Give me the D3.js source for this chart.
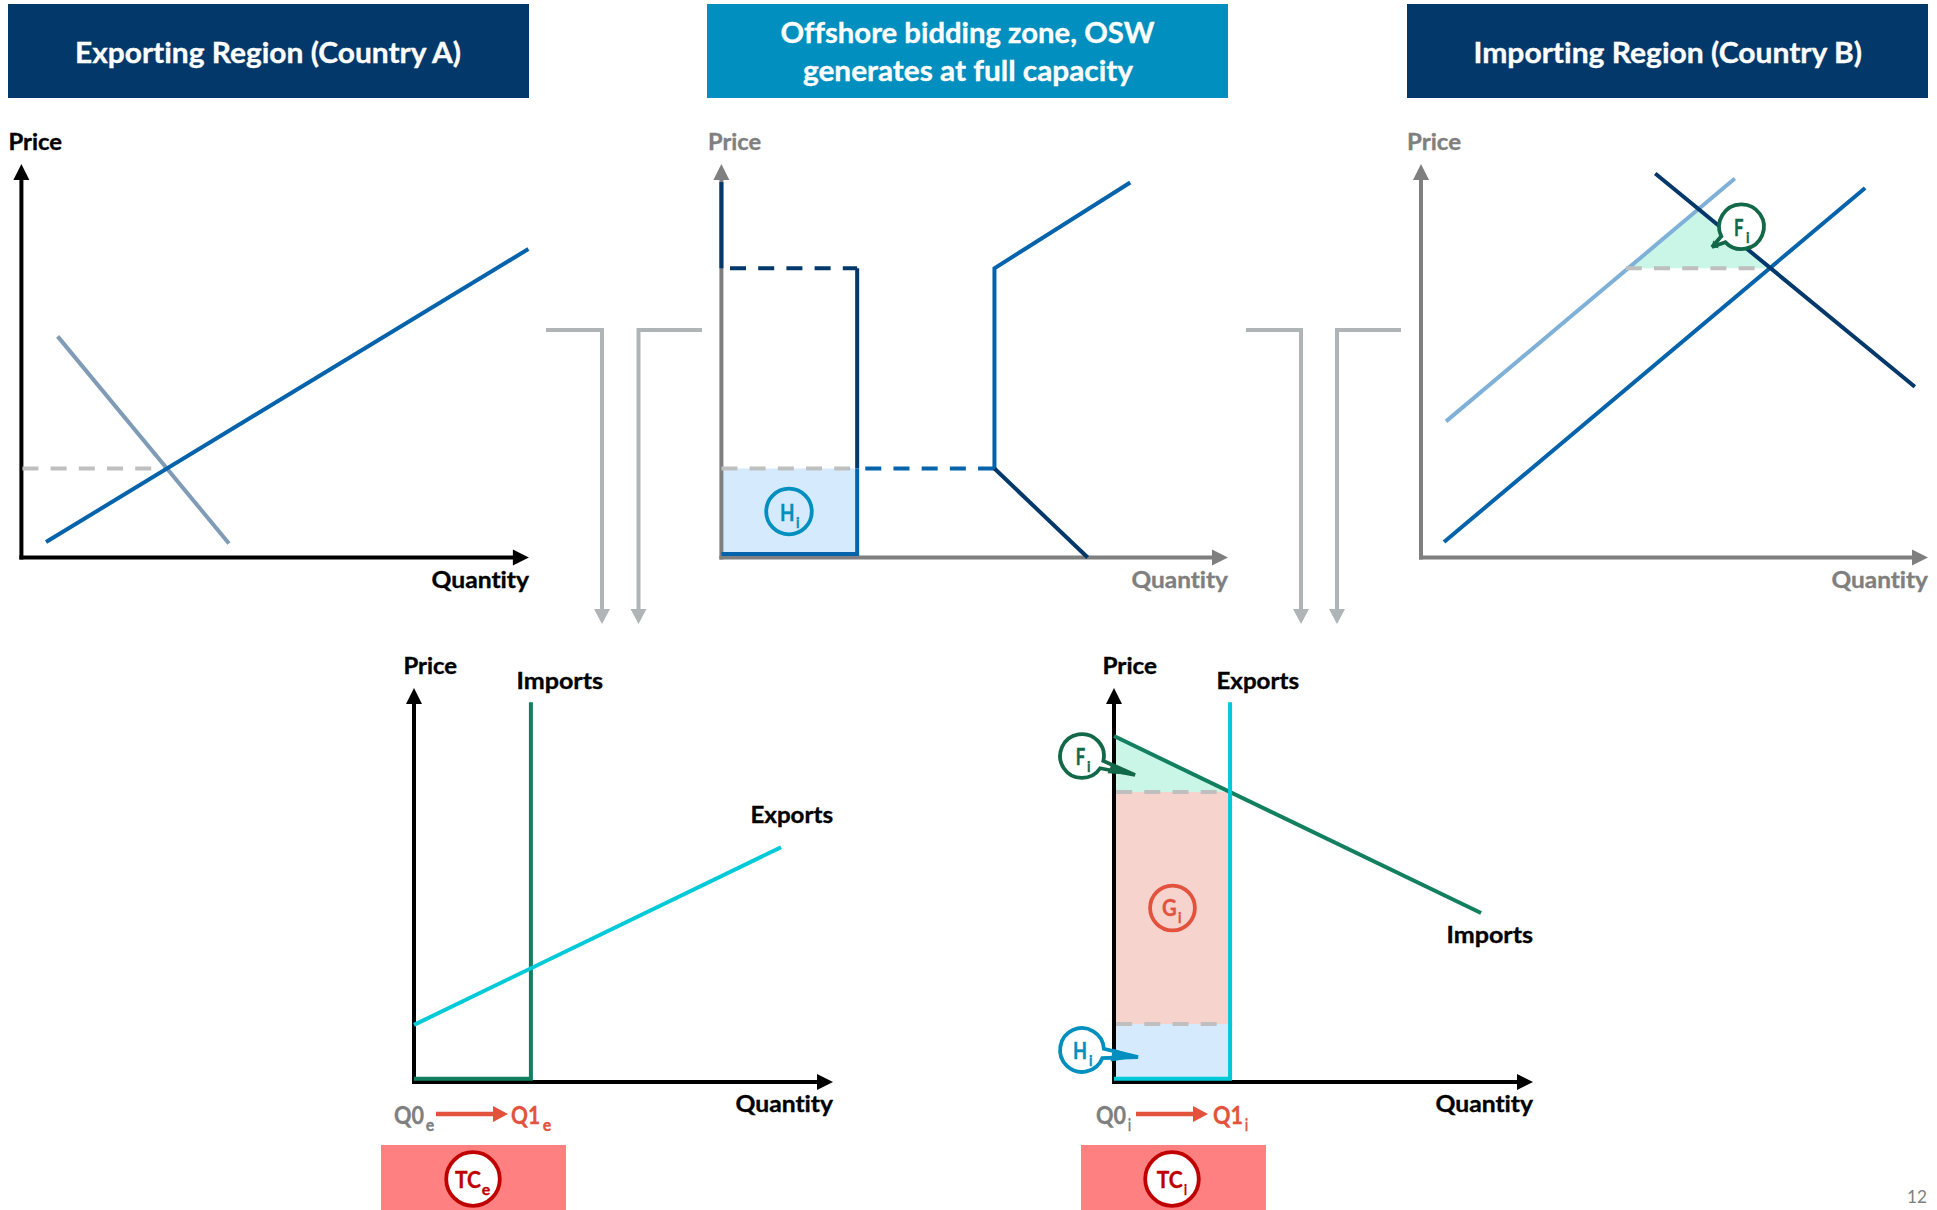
<!DOCTYPE html>
<html>
<head>
<meta charset="utf-8">
<title>Offshore bidding zone welfare effects</title>
<script src="https://cdn.jsdelivr.net/npm/d3@7"></script>
<style>
  html, body { margin: 0; padding: 0; background: #fff; }
  svg { display: block; }
  text { font-family: Lato, "Open Sans", sans-serif; font-weight: 700; font-variant-ligatures: none; stroke-width: 0.35px; }
</style>
</head>
<body>
<div id="chart"></div>
<script>
// Curve values, as [quantity %, price %] of each panel's axis length.
const exportSupply   = [[4.85, 3.94], [99.9, 78.4]];
const exportDemand   = [[7.14, 56.2], [40.9, 3.56]];
const exportPrice    = [[0.2, 22.6], [28.3, 22.6]];

const offshoreCap    = 26.8;
const offshoreBottom = 0.9;
const offshoreHigh   = 73.5;
const offshoreLow    = 22.6;
const offshoreCapAxis   = [[0, 73.5], [0, 95.4]];
const offshoreHighDash  = [[1.7, 73.5], [26.8, 73.5]];
const offshoreLowDash   = [[0, 22.6], [26.8, 22.6]];
const offshoreBlueDash  = [[28.4, 22.6], [53.9, 22.6]];
const offshoreSupply    = [[53.9, 22.6], [53.9, 73.5], [80.7, 95.3]];
const offshoreDemand    = [[53.9, 22.6], [72.3, 0]];

const importShifted  = [[4.93, 34.6], [61.9, 96.3]];
const importSupply   = [[4.54, 3.94], [87.6, 93.9]];
const importDemand   = [[46.2, 97.6], [97.4, 43.4]];
const importRent     = [[40.8, 73.5], [54.6, 88.5], [68.7, 73.5]];
const importPrice    = [[40.4, 73.5], [68.7, 73.5]];

const tradeECap      = 27.9;
const tradeETop      = 96.4;
const tradeEBottom   = 0.8;
const tradeEExports  = [[0, 14.5], [87.6, 59.6]];

const tradeICap      = 27.7;
const tradeITop      = 96.4;
const tradeIBottom   = 0.8;
const tradeILevelHi  = 73.6;
const tradeILevelLo  = 14.7;
const tradeIImports  = [[0, 87.8], [87.6, 42.9]];

const headerTitles = ["Exporting Region (Country A)", "Offshore bidding zone, OSW", "generates at full capacity", "Importing Region (Country B)"];
const axisTitles   = ["Price", "Quantity"];

// Palette
const navy = "#02386A", teal = "#008FBE", blue = "#0563AB", lightBlue = "#7FB1D8", steel = "#7F9BB5";
const grey = "#7F7F7F", dashGrey = "#BFBFBF", connector = "#AFB4B6", cyan = "#00CAD8", green = "#128060";
const darkGreen = "#12694A", red = "#E2523C", darkRed = "#C00000", salmon = "#FF8080";
const fillBlue = "#D5EAFC", fillGreen = "#C9F6E6", fillPink = "#F7D3CE";

const svg = d3.select("#chart").append("svg").attr("width", 1937).attr("height", 1210);

const LINE = 4;
const RING = 3.8;
const linePath = (x, y) => d3.line().x(d => x(d[0])).y(d => y(d[1]));

function label(text, x, baseline, width, size, color, g = svg) {
  return g.append("text").attr("x", x).attr("y", baseline)
    .attr("font-size", size).attr("fill", color).attr("stroke", color)
    .attr("textLength", width).attr("lengthAdjust", "spacingAndGlyphs")
    .text(text);
}

// Letters with a subscript, e.g. Q0 + e
function subscripted(main, sub, m, s, color, g = svg) {
  const t = g.append("text").attr("fill", color).attr("stroke", color);
  t.append("tspan").attr("x", m.x).attr("y", m.y).attr("font-size", m.size)
    .attr("textLength", m.w).attr("lengthAdjust", "spacingAndGlyphs").text(main);
  t.append("tspan").attr("x", s.x).attr("y", s.y).attr("font-size", s.size)
    .attr("textLength", s.w).attr("lengthAdjust", "spacingAndGlyphs").text(sub);
}

// One chart panel: scales, hidden-tick axes and arrow heads
function panel(x0, y0, w, h, axisColor) {
  const x = d3.scaleLinear().domain([0, 100]).range([x0, x0 + w]);
  const y = d3.scaleLinear().domain([0, 100]).range([y0, y0 - h]);
  const g = svg.append("g");
  const drawAxes = () => {
    const ax = d3.scaleLinear().domain([0, 100]).range([x0, x0 + w - 14]);
    const ay = d3.scaleLinear().domain([0, 100]).range([y0, y0 - h + 14]);
    const bottom = g.append("g").attr("transform", `translate(0,${y0})`)
      .call(d3.axisBottom(ax).tickValues([]).tickSizeOuter(0).offset(0));
    const left = g.append("g").attr("transform", `translate(${x0},0)`)
      .call(d3.axisLeft(ay).tickValues([]).tickSizeOuter(0).offset(0));
    for (const a of [bottom, left]) {
      a.select(".domain").attr("stroke", axisColor).attr("stroke-width", LINE).attr("stroke-linecap", "square");
    }
    g.append("path").attr("fill", axisColor)
      .attr("d", `M${x(100)},${y0} L${x(100) - 16},${y0 - 8} L${x(100) - 16},${y0 + 8} Z`);
    g.append("path").attr("fill", axisColor)
      .attr("d", `M${x0},${y(100)} L${x0 - 8},${y(100) + 16} L${x0 + 8},${y(100) + 16} Z`);
  };
  return { x, y, g, drawAxes };
}

function curve(p, data, color, opts = {}) {
  return p.g.append("path").datum(data)
    .attr("d", linePath(p.x, p.y))
    .attr("fill", "none").attr("stroke", color)
    .attr("stroke-width", opts.width || LINE)
    .attr("stroke-dasharray", opts.dash ? "16 12.2" : null)
    .attr("stroke-linejoin", "miter");
}

function area(p, data, color) {
  p.g.append("path").datum(data)
    .attr("d", linePath(p.x, p.y).curve(d3.curveLinearClosed))
    .attr("fill", color);
}

function box(p, q0, q1, p0, p1, color) {
  area(p, [[q0, p0], [q1, p0], [q1, p1], [q0, p1]], color);
}

function badge(cx, cy, r, color, fill = "#fff") {
  svg.append("circle").attr("cx", cx).attr("cy", cy).attr("r", r)
    .attr("fill", fill).attr("stroke", color).attr("stroke-width", RING);
}

// Speech-bubble marker: circle with a wedge between two angles, pointing at a tip
function bubble(cx, cy, r, tip, a1, a2, color) {
  const pt = (a, rad = r) => [cx + rad * Math.cos(a * Math.PI / 180), cy + rad * Math.sin(a * Math.PI / 180)];
  const [sx, sy] = pt(a2), [ex, ey] = pt(a1);
  svg.append("path")
    .attr("d", `M${sx},${sy} A${r},${r} 0 1 1 ${ex},${ey} L${tip[0]},${tip[1]} Z`)
    .attr("fill", "#fff").attr("stroke", color).attr("stroke-width", RING).attr("stroke-linejoin", "miter");
  // the narrow end of the wedge reads as solid colour
  const [ax, ay] = pt(a1, r + 9), [bx, by] = pt(a2, r + 9);
  svg.append("path").attr("d", `M${ax},${ay} L${tip[0]},${tip[1]} L${bx},${by} Z`).attr("fill", color);
}

// Elbow arrow running from a panel's side down towards the trade panels
function elbow(xStart, xTurn) {
  const yTop = 330, yTip = 624;
  svg.append("path").attr("fill", "none").attr("stroke", connector).attr("stroke-width", LINE)
    .attr("d", d3.line()([[xStart, yTop], [xTurn, yTop], [xTurn, yTip - 12]]));
  svg.append("path").attr("fill", connector)
    .attr("d", `M${xTurn},${yTip} L${xTurn - 8},${yTip - 15} L${xTurn + 8},${yTip - 15} Z`);
}

// Header bands
const headers = [
  { x: 8, w: 521, color: navy }, { x: 707, w: 521, color: teal }, { x: 1407, w: 521, color: navy }
];
svg.selectAll("rect.header").data(headers).join("rect").attr("class", "header")
  .attr("x", d => d.x).attr("y", 4).attr("width", d => d.w).attr("height", 94).attr("fill", d => d.color);
label(headerTitles[0], 75, 62.5, 386, 29, "#fff");
label(headerTitles[1], 780.5, 42.5, 374, 29, "#fff");
label(headerTitles[2], 803, 81, 330, 29, "#fff");
label(headerTitles[3], 1473.5, 62.5, 388.5, 29, "#fff");

// Connectors between the regional and trade panels
elbow(546, 602);
elbow(702, 638.5);
elbow(1246, 1301);
elbow(1401, 1337);

// Exporting region
const pA = panel(21.4, 557.5, 507.5, 393.5, "#000");
pA.drawAxes();
curve(pA, exportPrice, dashGrey, { dash: true });
curve(pA, exportDemand, steel);
curve(pA, exportSupply, blue);
label(axisTitles[0], 8.5, 149.5, 53.5, 22, "#000");
label(axisTitles[1], 431.5, 588, 97.5, 22, "#000");

// Offshore bidding zone
const pO = panel(721.4, 557.5, 506.6, 393.5, grey);
box(pO, 0, offshoreCap, offshoreBottom, offshoreLow, fillBlue);
pO.drawAxes();
curve(pO, offshoreCapAxis, navy);
curve(pO, offshoreHighDash, navy, { dash: true });
curve(pO, [[offshoreCap, offshoreHigh], [offshoreCap, offshoreLow]], navy);
curve(pO, [[0, offshoreBottom], [offshoreCap, offshoreBottom], [offshoreCap, offshoreLow]], blue);
curve(pO, offshoreLowDash, dashGrey, { dash: true });
curve(pO, offshoreBlueDash, blue, { dash: true });
curve(pO, offshoreSupply, blue);
curve(pO, offshoreDemand, navy);
label(axisTitles[0], 708, 149.5, 53, 22, grey);
label(axisTitles[1], 1131.5, 588, 96.5, 22, grey);
badge(789, 511.5, 22.8, teal, fillBlue);
subscripted("H", "i", { x: 780, y: 521, size: 22, w: 14.5 }, { x: 796, y: 527.5, size: 15, w: 3.5 }, teal);

// Importing region
const pI = panel(1421, 557.5, 507, 393.5, grey);
area(pI, importRent, fillGreen);
pI.drawAxes();
curve(pI, importShifted, lightBlue);
curve(pI, importPrice, dashGrey, { dash: true });
curve(pI, importSupply, blue);
curve(pI, importDemand, navy);
label(axisTitles[0], 1407, 149.5, 54, 22, grey);
label(axisTitles[1], 1831.5, 588, 96.5, 22, grey);
bubble(1741.5, 226.7, 22.4, [1712, 247], 136.5, 154.5, darkGreen);
subscripted("F", "i", { x: 1734, y: 236, size: 22, w: 9.5 }, { x: 1746, y: 243, size: 15, w: 3.5 }, darkGreen);

// Trade panel, exporting side
const pE = panel(414, 1082, 419, 394, "#000");
pE.drawAxes();
curve(pE, [[0, tradeEBottom], [tradeECap, tradeEBottom], [tradeECap, tradeETop]], green);
curve(pE, tradeEExports, cyan);
label(axisTitles[0], 403.5, 673.8, 53.5, 22, "#000");
label("Imports", 516.5, 689, 86.5, 22, "#000");
label("Exports", 750.5, 823, 82.5, 22, "#000");
label(axisTitles[1], 735.5, 1112, 97.5, 22, "#000");

// Trade panel, importing side
const pT = panel(1114, 1082, 419, 394, "#000");
area(pT, [[0.4, tradeILevelHi], [tradeICap, tradeILevelHi], [0.4, 87.6]], fillGreen);
box(pT, 0.4, tradeICap, tradeILevelLo, tradeILevelHi, fillPink);
box(pT, 0.4, tradeICap, tradeIBottom, tradeILevelLo, fillBlue);
pT.drawAxes();
curve(pT, [[0.5, tradeILevelHi], [tradeICap, tradeILevelHi]], dashGrey, { dash: true });
curve(pT, [[0.5, tradeILevelLo], [tradeICap + 0.5, tradeILevelLo]], dashGrey, { dash: true });
curve(pT, tradeIImports, green);
curve(pT, [[0, tradeIBottom], [tradeICap, tradeIBottom], [tradeICap, tradeITop]], cyan);
label(axisTitles[0], 1102.5, 673.8, 54.5, 22, "#000");
label("Exports", 1216.5, 689, 82.5, 22, "#000");
label("Imports", 1446.5, 943, 86.5, 22, "#000");
label(axisTitles[1], 1435.5, 1112, 97.5, 22, "#000");

bubble(1082, 756, 21.9, [1135, 775], 13, 34, darkGreen);
subscripted("F", "i", { x: 1075.7, y: 765, size: 22, w: 9.5 }, { x: 1087, y: 771.7, size: 15, w: 3.5 }, darkGreen);
bubble(1082, 1050, 21.9, [1138, 1057], -3, 22, teal);
subscripted("H", "i", { x: 1073, y: 1059, size: 22, w: 14 }, { x: 1089, y: 1065.7, size: 15, w: 3.5 }, teal);
badge(1172.5, 908, 22.4, red, "none");
subscripted("G", "i", { x: 1162, y: 916.4, size: 22, w: 14.7 }, { x: 1178, y: 923, size: 15, w: 3.5 }, red);

// Quantity change arrows and the transmission-cost boxes below
function shift(x0, x1) {
  svg.append("line").attr("x1", x0).attr("x2", x1 - 14).attr("y1", 1114).attr("y2", 1114)
    .attr("stroke", red).attr("stroke-width", 4.5);
  svg.append("path").attr("fill", red)
    .attr("d", `M${x1},1114 L${x1 - 15},1106 L${x1 - 15},1122 Z`);
}
shift(436, 508);
shift(1136, 1208);
subscripted("Q0", "e", { x: 394, y: 1124, size: 25, w: 30 }, { x: 425.7, y: 1130.5, size: 17, w: 8.5 }, grey);
subscripted("Q1", "e", { x: 511, y: 1124, size: 25, w: 29 }, { x: 542.7, y: 1130.5, size: 17, w: 8.5 }, red);
subscripted("Q0", "i", { x: 1096, y: 1124, size: 25, w: 30 }, { x: 1128, y: 1130.5, size: 17, w: 3 }, grey);
subscripted("Q1", "i", { x: 1213, y: 1124, size: 25, w: 30 }, { x: 1245, y: 1130.5, size: 17, w: 3 }, red);

const costBoxes = [{ x: 381 }, { x: 1081 }];
svg.selectAll("rect.cost").data(costBoxes).join("rect").attr("class", "cost")
  .attr("x", d => d.x).attr("y", 1145).attr("width", 185).attr("height", 65).attr("fill", salmon);
badge(473, 1179, 26.8, darkRed);
badge(1172, 1179, 26.8, darkRed);
subscripted("TC", "e", { x: 455, y: 1188, size: 22, w: 26 }, { x: 481.7, y: 1195, size: 15, w: 8.5 }, darkRed);
subscripted("TC", "i", { x: 1156.7, y: 1188, size: 22, w: 26 }, { x: 1184, y: 1195, size: 15, w: 3 }, darkRed);

// Slide number
label("12", 1907, 1203, 20, 18, "#7F7F7F").style("font-weight", 400).style("stroke-width", 0);
</script>
</body>
</html>
